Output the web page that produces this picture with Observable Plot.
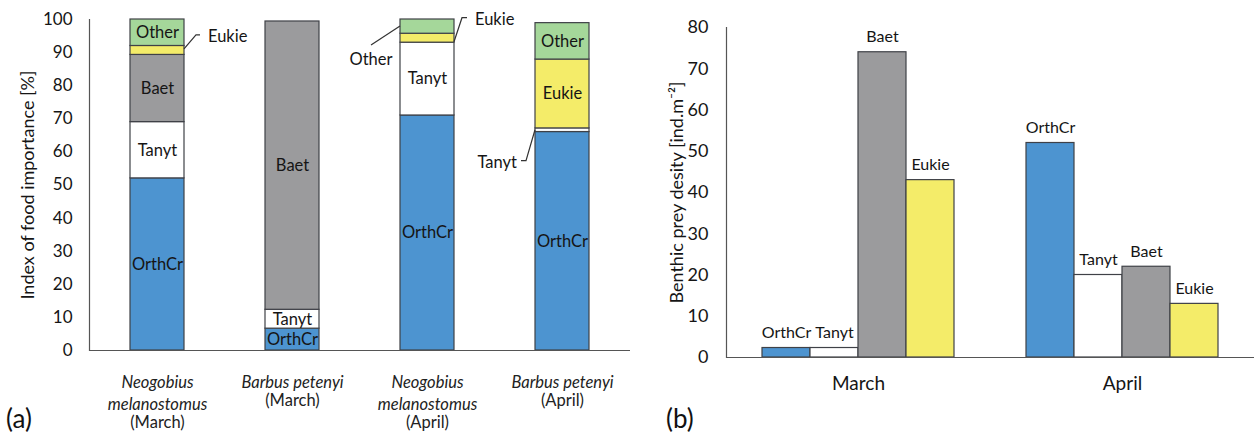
<!DOCTYPE html>
<html><head><meta charset="utf-8">
<script src="https://cdn.jsdelivr.net/npm/d3@7"></script>
<script src="https://cdn.jsdelivr.net/npm/@observablehq/plot@0.6"></script>
<style>
body{margin:0;background:#fff;font-family:Lato, sans-serif;}
#wrap{position:relative;width:1254px;height:436px;overflow:hidden;background:#fff;}
#a{position:absolute;left:0;top:0;}
#b{position:absolute;left:640px;top:0;}
.tag{position:absolute;font-size:26px;color:#111;font-family:Lato, sans-serif;line-height:30px;}
</style></head><body>
<div id="wrap"><div id="a"></div><div id="b"></div>
<div class="tag" style="left:6px;top:403px">(a)</div>
<div class="tag" style="left:666px;top:403px">(b)</div></div>
<script>
// ---- data: panel (a) index of food importance [%] ----
const series = ["OrthCr", "Tanyt", "Baet", "Eukie", "Other"];
const seriesColors = ["#4d94d0", "#ffffff", "#9b9b9d", "#f4ec69", "#a5d79a"];
const dietGroups = ["NM_March", "BP_March", "NM_April", "BP_April"];
const dietSpecies = ["Neogobius\nmelanostomus", "Barbus petenyi", "Neogobius\nmelanostomus", "Barbus petenyi"];
const dietMonths = ["(March)", "(March)", "(April)", "(April)"];
const orthCrIFI = [52, 6.6, 71, 66];
const tanytIFI = [17, 5.7, 22, 1.1];
const baetIFI = [20.3, 87.1, 0, 0];
const eukieIFI = [2.7, 0, 2.7, 20.8];
const otherIFI = [8, 0, 4.3, 11];
const yTicksA = [0, 10, 20, 30, 40, 50, 60, 70, 80, 90, 100];
const yTitleA = "Index of food importance [%]";
const leaderLabels = [
  {group: "NM_March", series: "Eukie"},
  {group: "NM_April", series: "Eukie"},
  {group: "NM_April", series: "Other"},
  {group: "BP_April", series: "Tanyt"}
];

// ---- data: panel (b) benthic prey density ----
const months = ["March", "April"];
const densSeries = ["OrthCr", "Tanyt", "Baet", "Eukie"];
const densMarch = [2.3, 2.3, 74, 43];
const densApril = [52, 20, 22, 13];
const yTicksB = [0, 10, 20, 30, 40, 50, 60, 70, 80];
const yTitleB = "Benthic prey desity [ind.m\u207B\u00B2]";

// ---- build tables ----
const ifi = [orthCrIFI, tanytIFI, baetIFI, eukieIFI, otherIFI];
const diet = [];
dietGroups.forEach((g, i) => series.forEach((s, j) => diet.push({group: g, series: s, value: ifi[j][i]})));
const cats = dietGroups.map((g, i) => ({
  group: g, species: dietSpecies[i], month: dietMonths[i],
  lines: dietSpecies[i].split("\n").length
}));
const densVals = [densMarch, densApril];
const dens = [];
months.forEach((m, i) => densSeries.forEach((s, j) => dens.push({month: m, series: s, value: densVals[i][j]})));

const ink = "#151515", barStroke = "#3f4147", axisInk = "#555";
const catFont = 16.5, catLine = 22, catTop = 22;

// leader-line styling (pixel offsets relative to the segment edge)
const leaderStyle = {
  "NM_March|Eukie": {side: "right", pts: [[0, -1], [12, -15], [16, -15]], label: [24, -14], anchor: "start"},
  "NM_April|Eukie": {side: "right", pts: [[0, 4], [8, -20], [13, -20]], label: [21, -18], anchor: "start"},
  "NM_April|Other": {side: "left", pts: [[0, 0], [-29, 19]], label: [-29, 33], anchor: "middle"},
  "BP_April|Tanyt": {side: "left", pts: [[0, 0], [-9, 31], [-14, 31]], label: [-18, 33], anchor: "end"}
};

function leaders(index, scales) {
  const x = scales.x, y = scales.y;
  const bw = x.bandwidth ? x.bandwidth() : scales.scales.x.bandwidth;
  const g = d3.create("svg:g");
  for (const L of leaderLabels) {
    const i = dietGroups.indexOf(L.group), j = series.indexOf(L.series);
    let lo = 0;
    for (let k = 0; k < j; ++k) lo += ifi[k][i];
    const hi = lo + ifi[j][i];
    const st = leaderStyle[L.group + "|" + L.series];
    const ax = x(L.group) + (st.side === "right" ? bw : 0);
    const ay = y((lo + hi) / 2);
    g.append("path")
      .attr("d", "M" + st.pts.map(p => (ax + p[0]) + "," + (ay + p[1])).join("L"))
      .attr("fill", "none").attr("stroke", "#333").attr("stroke-width", 1.2);
    g.append("text")
      .attr("x", ax + st.label[0]).attr("y", ay + st.label[1])
      .attr("dy", "0.35em").attr("text-anchor", st.anchor)
      .attr("font-size", 16.5).attr("fill", ink).text(L.series);
  }
  return g.node();
}

const monthMarks = [1, 2].map(n => Plot.text(cats.filter(d => d.lines === n), {
  x: "group", frameAnchor: "bottom", text: "month", lineAnchor: "top",
  dy: catTop + n * catLine, fontSize: catFont, fill: "#222"
}));

const chartA = Plot.plot({
  width: 640, height: 436,
  marginLeft: 89, marginRight: 10, marginTop: 19, marginBottom: 86,
  style: {fontFamily: "Lato, sans-serif", fontSize: "16px", color: ink, background: "white"},
  x: {domain: dietGroups, paddingInner: 0.6, paddingOuter: 0.3, axis: null},
  y: {domain: [0, 100], axis: null},
  color: {domain: series, range: seriesColors},
  marks: [
    Plot.barY(diet, {x: "group", y: "value", fill: "series", order: series, stroke: barStroke, strokeWidth: 1.2}),
    Plot.text(diet, Plot.stackY({x: "group", y: "value", z: "series", order: series,
      text: d => d.value >= 5 ? d.series : null, fontSize: 16.5, fill: ink})),
    leaders,
    Plot.frame({anchor: "left", stroke: axisInk, strokeWidth: 1.2}),
    Plot.ruleY([0], {stroke: axisInk, strokeWidth: 1.2}),
    Plot.axisY({ticks: yTicksA, tickSize: 0, tickPadding: 17, label: null, fontSize: 17}),
    Plot.text([yTitleA], {frameAnchor: "left", textAnchor: "middle", rotate: -90, dx: -61, fontSize: 18, fill: ink}),
    Plot.text(cats, {x: "group", frameAnchor: "bottom", text: "species", fontStyle: "italic",
      lineAnchor: "top", dy: catTop, lineHeight: catLine / catFont, fontSize: catFont, fill: "#222"}),
    ...monthMarks
  ]
});
document.getElementById("a").append(chartA);

const chartB = Plot.plot({
  width: 614, height: 436,
  marginLeft: 86, marginRight: 0, marginTop: 27, marginBottom: 79,
  style: {fontFamily: "Lato, sans-serif", fontSize: "16px", color: ink, background: "white"},
  fx: {domain: months, padding: 0, axis: null, label: null},
  x: {domain: densSeries, paddingInner: 0, paddingOuter: 0.74, axis: null},
  y: {domain: [0, 80], axis: null},
  color: {domain: series, range: seriesColors},
  marks: [
    Plot.barY(dens, {fx: "month", x: "series", y: "value", fill: "series", stroke: barStroke, strokeWidth: 1.2}),
    Plot.text(dens, {fx: "month", x: "series", y: "value", text: "series", dy: -15, fontSize: 16, fill: ink}),
    Plot.ruleY([0], {stroke: axisInk, strokeWidth: 1.2}),
    Plot.frame({anchor: "left", facetAnchor: "left", stroke: axisInk, strokeWidth: 1.2}),
    Plot.axisY({ticks: yTicksB, tickSize: 0, tickPadding: 18, label: null, fontSize: 18}),
    Plot.axisFx({anchor: "bottom", tickSize: 0, tickPadding: 19, label: null, fontSize: 19}),
    Plot.text([yTitleB], {frameAnchor: "left", textAnchor: "middle", facetAnchor: "left", rotate: -90, dx: -49, fontSize: 18, fill: ink})
  ]
});
document.getElementById("b").append(chartB);
</script>
</body></html>
